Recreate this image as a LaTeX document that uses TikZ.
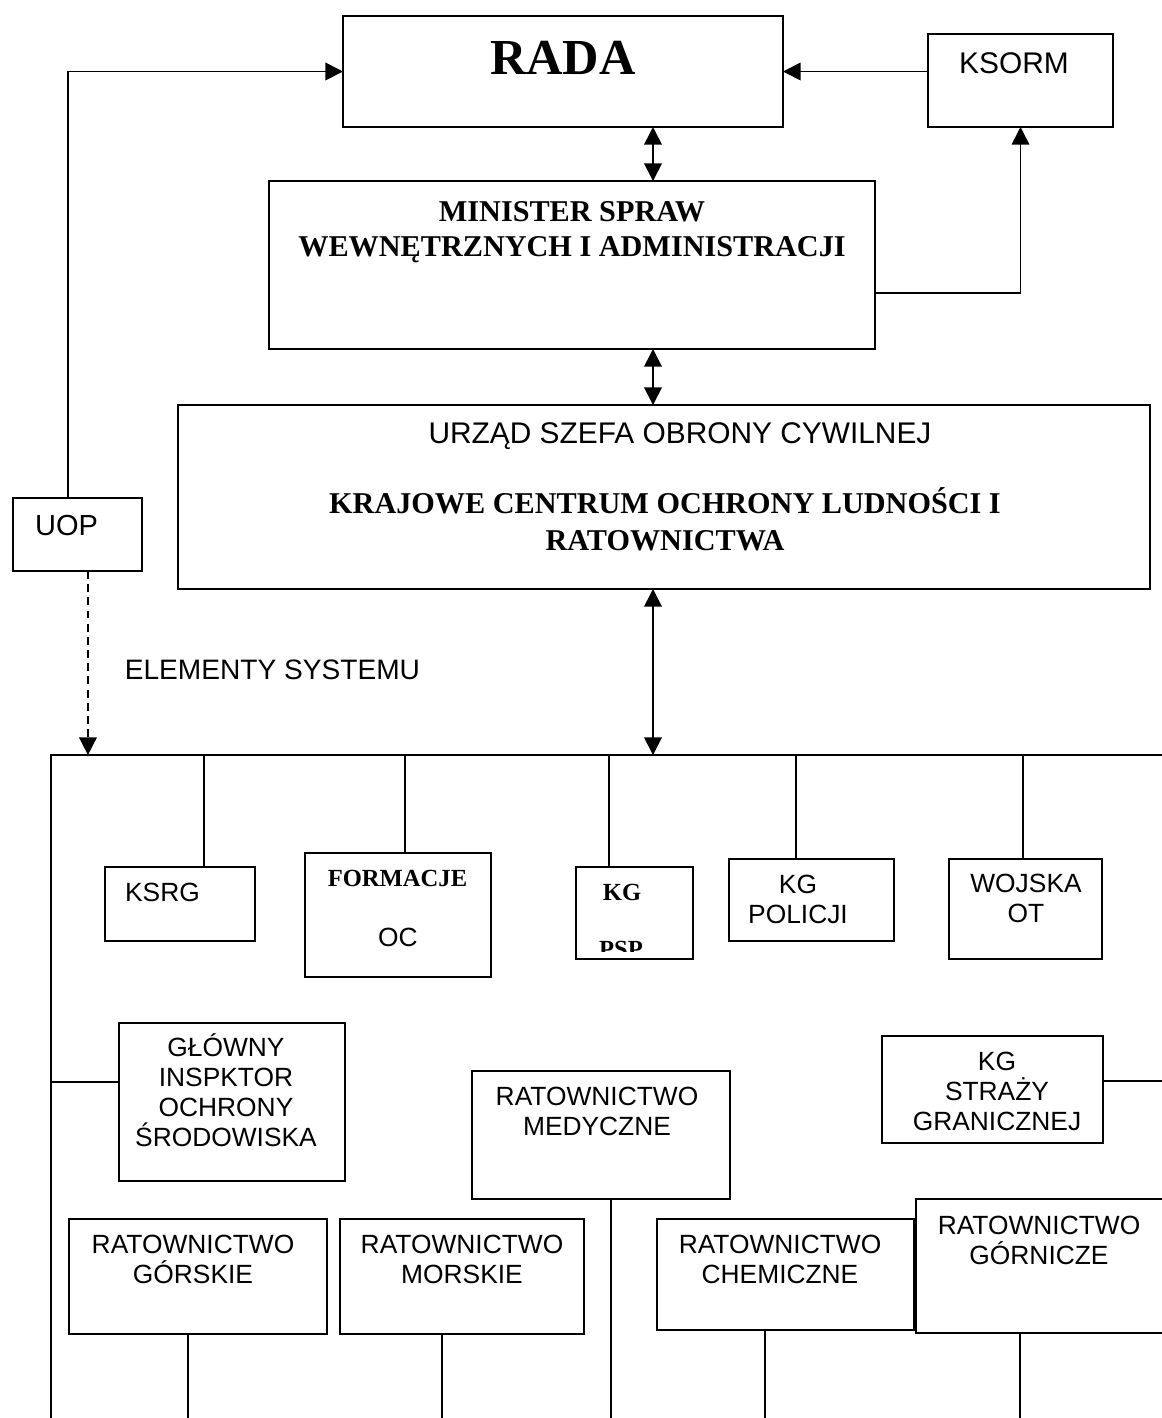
\documentclass[tikz,border=0pt]{standalone}
\usepackage{fontspec}
\setmainfont{Liberation Serif}
\setsansfont{Liberation Sans}
\usetikzlibrary{arrows.meta,calc}

\tikzset{
  box/.style={draw, rectangle, inner sep=0pt, outer sep=0pt},
  sz/.style 2 args={minimum width=#1*0.02cm, minimum height=#2*0.02cm},
  lab/.style={font=\sffamily\fontsize{15}{17}\selectfont, text height=10.7pt, text depth=0pt, align=center, inner sep=0pt},
  biglab/.style={font=\sffamily\fontsize{17}{20}\selectfont, text height=12.2pt, text depth=0pt, align=center, inner sep=0pt},
  boldlab/.style={font=\bfseries\fontsize{17.2}{20}\selectfont, text height=11.6pt, text depth=0pt, align=center, inner sep=0pt},
  smallbold/.style={font=\bfseries\fontsize{14}{16}\selectfont, text height=9.5pt, text depth=0pt, inner sep=0pt},
  arr/.style={-{Triangle[length=10pt,width=10pt]}},
  darr/.style={{Triangle[length=10pt,width=10pt]}-{Triangle[length=10pt,width=10pt]}},
}

\begin{document}
\begin{tikzpicture}[x=0.02cm,y=-0.02cm,line width=0.95pt]
  \clip (0,0) rectangle (1162,1418);
  % top part (multi-line labels sit on their last line)
  \node[box, sz={440}{111}] (rada) at (563,71.5) {};
  \node[font=\bfseries\fontsize{28.7}{32}\selectfont, text height=19.4pt, text depth=0pt, inner sep=0pt] (rada-t) at (563,57) {RADA};
  \node[box, sz={185}{93}] (ksorm) at (1020.5,80.5) {};
  \node[biglab] (ksorm-t) at (1014,62.5) {KSORM};
  \node[box, sz={606}{168}] (minister) at (572,265) {};
  \node[boldlab] (minister-t) at (572,246) {MINISTER SPRAW\\WEWNĘTRZNYCH I ADMINISTRACJI};
  \node[box, sz={972}{184}] (urzad) at (664,497) {};
  \node[biglab] (urzad-t1) at (680,433) {URZĄD SZEFA OBRONY CYWILNEJ};
  \node[boldlab, font=\bfseries\fontsize{17.2}{21}\selectfont] (urzad-t2) at (665,540) {KRAJOWE CENTRUM OCHRONY LUDNOŚCI I\\RATOWNICTWA};
  \node[box, sz={129}{73}] (uop) at (77.5,534.5) {};
  \node[biglab, font=\sffamily\fontsize{16.5}{19}\selectfont] (uop-t) at (66.5,524.5) {UOP};
  \node[biglab, font=\sffamily\fontsize{16}{19}\selectfont, anchor=west] (elem) at (124,669) {ELEMENTY SYSTEMU};

  \coordinate (axis) at (653,0);
  \coordinate (busL) at (51,755);
  \coordinate (busR) at (1162,755);
  \coordinate (bot) at (0,1418);
  \coordinate (uopUp) at ($(uop.north west)!0.426!(uop.north east)$);
  \coordinate (uopDn) at ($(uop.south west)!0.581!(uop.south east)$);
  \coordinate (minOut) at ($(minister.north east)!0.667!(minister.south east)$);

  \draw[arr] (ksorm.west |- rada.east) -- (rada.east);
  \draw[arr] (uopUp) |- (rada.west);
  \draw[arr] (minOut) -| (ksorm.south);
  \draw[darr] (rada.south -| axis) -- (minister.north -| axis);
  \draw[darr] (minister.south -| axis) -- (urzad.north -| axis);
  \draw[darr] (urzad.south -| axis) -- (busL -| axis);
  \draw[arr, dash pattern=on 4.5pt off 3pt] (uopDn) -- (uopDn |- busL);
  \draw (busR) -- (busL) -- (busL |- bot);

  % elementy systemu
  \node[box, sz={150}{74}] (ksrg) at (180,904) {};
  \node[lab] (ksrg-t) at (162.5,892) {KSRG};
  \node[box, sz={186}{124}] (formacje) at (398,915) {};
  \node[smallbold] (formacje-t1) at (397.5,878) {FORMACJE};
  \node[lab] (formacje-t2) at (398,937) {OC};
  \node[box, sz={117}{92}] (kgpsp) at (634.5,913) {};
  \node[smallbold] (kgpsp-t1) at (622,892) {KG};
  \begin{scope}
    \clip ($(kgpsp.south west)+(0,-8)$) rectangle (kgpsp.north east);
    \node[smallbold] (kgpsp-t2) at (621,949) {PSP};
  \end{scope}
  \node[box, sz={165}{82}] (policja) at (811.5,900) {};
  \node[lab] (policja-t) at (798,914) {KG\\POLICJI};
  \node[box, sz={153}{100}] (wojsko) at (1025.5,909) {};
  \node[lab] (wojsko-t) at (1026,913) {WOJSKA\\OT};

  \foreach \n/\x in {ksrg/204, formacje/405, kgpsp/609, policja/796, wojsko/1023}
    \draw (busL -| \x,0) -- (\n.north -| \x,0);

  \node[box, sz={226}{158}] (gios) at (232,1102) {};
  \node[lab] (gios-t) at (226,1137) {GŁÓWNY\\INSPKTOR\\OCHRONY\\ŚRODOWISKA};
  \node[box, sz={258}{128}] (medyczne) at (601,1135) {};
  \node[lab] (medyczne-t) at (597,1126) {RATOWNICTWO\\MEDYCZNE};
  \node[box, sz={221}{107}] (sg) at (992.5,1089.5) {};
  \node[lab] (sg-t) at (997,1121) {KG\\STRAŻY\\GRANICZNEJ};
  \node[box, sz={258}{115}] (gorskie) at (198,1276.5) {};
  \node[lab] (gorskie-t) at (193,1274) {RATOWNICTWO\\GÓRSKIE};
  \node[box, sz={244}{115}] (morskie) at (462,1276.5) {};
  \node[lab] (morskie-t) at (462,1274) {RATOWNICTWO\\MORSKIE};
  \node[box, sz={257}{111}] (chemiczne) at (785.5,1274.5) {};
  \node[lab] (chemiczne-t) at (780,1274) {RATOWNICTWO\\CHEMICZNE};
  \node[box, sz={274}{134}] (gornicze) at (1053,1266) {};
  \node[lab] (gornicze-t) at (1039,1255) {RATOWNICTWO\\GÓRNICZE};

  \coordinate (giosIn) at ($(gios.north west)!0.373!(gios.south west)$);
  \coordinate (sgOut) at ($(sg.north east)!0.42!(sg.south east)$);
  \draw (giosIn) -- (giosIn -| busL);
  \draw (sgOut) -- (sgOut -| busR);
  \foreach \n/\x in {gorskie/188, morskie/442, medyczne/611, chemiczne/765, gornicze/1020}
    \draw (\n.south -| \x,0) -- (bot -| \x,0);
\end{tikzpicture}
\end{document}
